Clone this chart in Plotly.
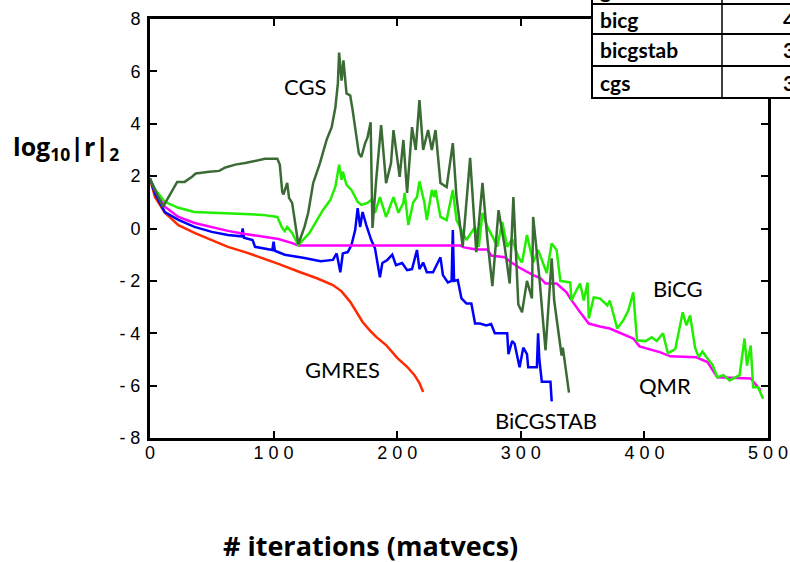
import plotly.graph_objs as go

# convergence histories, log10 of residual norm vs. matvecs
gmres_x = [0, 4, 12, 23, 36, 50, 63, 77, 91, 105, 121, 135, 148, 155, 162, 167, 172, 178, 183, 191, 200, 208, 214, 218, 221]
gmres_y = [1.9, 1.2, 0.6, 0.13, -0.17, -0.44, -0.7, -0.9, -1.13, -1.37, -1.66, -1.9, -2.16, -2.4, -2.8, -3.2, -3.57, -3.9, -4.14, -4.45, -4.94, -5.28, -5.6, -5.9, -6.24]

bicgstab_x = [0, 4, 12, 23, 36, 50, 63, 74, 75, 76, 83, 85, 99, 100, 101, 109, 125, 138, 148, 151, 154, 156, 160, 163,
              166, 168, 170, 172, 175, 179, 182, 184, 186, 188, 192, 196, 199, 204, 208, 212, 216, 218, 221, 224, 229,
              235, 237, 241, 244, 245, 246, 249, 252, 256, 260, 263, 267, 272, 276, 279, 283, 289, 290, 293, 295, 299,
              302, 305, 306, 311, 313, 314, 315, 317, 324, 325]
bicgstab_y = [1.9, 1.35, 0.63, 0.33, 0.06, -0.13, -0.25, -0.3, 0.0, -0.35, -0.44, -0.7, -0.82, -0.5, -0.85, -1.0, -1.13, -1.25,
              -1.2, -0.95, -1.67, -0.95, -0.9, -0.63, -0.06, 0.78, 0.06, 0.63, 0.13, -0.44, -0.75, -1.32, -1.86, -1.32,
              -1.2, -1.0, -1.4, -1.32, -1.59, -1.55, -0.82, -1.55, -1.3, -1.67, -1.67, -1.1, -1.78, -2.06, -2.0, -0.06,
              -2.0, -1.97, -2.67, -2.86, -2.86, -3.63, -3.63, -3.7, -3.65, -4.0, -4.0, -4.0, -4.8, -4.3, -4.4, -5.3,
              -4.55, -4.8, -5.3, -5.3, -5.3, -4.0, -5.0, -5.85, -5.85, -6.6]

qmr_x = [0, 4, 12, 23, 36, 50, 63, 77, 91, 104, 115, 120, 251, 254, 264, 273, 276, 287, 293, 299, 310, 316, 320, 329,
         337, 340, 348, 355, 364, 372, 391, 396, 413, 421, 442, 451, 459, 486, 494]
qmr_y = [1.9, 1.47, 0.83, 0.44, 0.21, 0.06, -0.09, -0.21, -0.32, -0.4, -0.56, -0.65, -0.65, -0.72, -0.8, -0.8, -1.03, -1.1,
         -1.32, -1.5, -1.78, -1.9, -2.1, -2.1, -2.44, -2.67, -3.2, -3.63, -3.74, -3.82, -4.2, -4.5, -4.73, -4.88, -4.92,
         -5.1, -5.68, -5.73, -6.18]

bicg_x = [0, 4, 12, 23, 36, 50, 77, 91, 103, 107, 109, 111, 115, 120, 129, 134, 140, 146, 150, 153, 155, 156, 159, 163,
          168, 171, 176, 179, 182, 186, 191, 197, 201, 205, 206, 209, 213, 216, 218, 222, 224, 228, 230, 231, 235, 240,
          244, 245, 248, 252, 256, 263, 266, 269, 273, 277, 281, 285, 289, 293, 298, 301, 305, 310, 314, 321, 325, 329,
          332, 340, 341, 345, 348, 351, 354, 355, 359, 364, 370, 372, 378, 383, 387, 391, 394, 401, 406, 410, 415, 419,
          425, 431, 434, 437, 441, 444, 447, 450, 455, 459, 464, 469, 477, 481, 483, 486, 488, 492, 496]
bicg_y = [1.9, 1.5, 1.02, 0.79, 0.63, 0.6, 0.56, 0.52, 0.44, 0.02, -0.1, 0.06, -0.17, -0.63, -0.17, 0.25, 0.71, 1.1, 1.6,
          2.44, 1.86, 2.17, 1.67, 1.47, 1.02, 0.9, 0.98, 1.1, 0.6, 1.2, 0.44, 1.2, 0.6, 0.98, 1.36, 0.13, 1.0, 1.2, 1.8,
          0.98, 0.32, 1.47, 1.2, 1.47, 0.44, 0.32, 1.2, 1.47, 0.32, -0.06, -0.44, 0.06, -0.7, 0.6, 0.06, -0.3, -0.7,
          0.25, -0.7, -0.4, -1.1, -1.3, -0.25, -1.3, -0.82, -1.7, -0.57, -0.82, -2.0, -2.06, -2.75, -2.36, -2.1, -2.75,
          -2.06, -3.44, -2.63, -2.67, -2.94, -2.75, -3.82, -3.5, -3.13, -2.44, -4.27, -4.3, -4.15, -4.3, -4.0, -4.77,
          -4.6, -3.2, -3.7, -3.32, -4.55, -4.92, -4.7, -4.9, -5.2, -5.68, -5.6, -5.8, -5.6, -4.2, -5.24, -4.47, -6.06,
          -6.06, -6.5]

cgs_x = [0, 10.5, 22, 28, 34, 37, 48, 56, 61, 69, 77, 85, 93, 103, 105, 107, 108, 111, 112.5, 115, 120, 125, 128, 132,
         137.5, 143, 147, 150, 152, 153, 155, 156.5, 159, 162, 164, 169, 171, 174, 176, 178.5, 180, 183, 187, 191, 195,
         197, 202, 205, 208, 212, 215, 218, 221, 225, 228, 231, 235, 240, 245, 248, 253, 259, 264, 269, 273, 277, 282,
         287, 291, 294, 298, 301, 305, 309, 310, 315, 320, 325, 327, 333, 334, 339]
cgs_y = [1.9, 0.83, 1.78, 1.78, 1.98, 2.1, 2.17, 2.2, 2.33, 2.44, 2.5, 2.58, 2.66, 2.66, 2.44, 1.4, 1.3, 1.74, 1.17, 0.98,
         -0.6, 0.06, 0.6, 1.73, 2.5, 3.4, 3.87, 4.63, 5.54, 6.72, 5.65, 6.42, 5.16, 5.08, 4.5, 2.86, 2.73, 3.25, 3.48,
         4.06, 0.02, 1.86, 3.95, 1.73, 2.5, 3.76, 1.97, 3.38, 1.36, 3.87, 3.0, 4.9, 3.0, 3.76, 3.0, 3.76, 1.74, 1.58,
         3.26, 1.2, -0.7, 2.7, -0.9, 1.74, -0.44, -2.2, 0.7, -0.7, -2.1, 1.2, -2.9, -3.2, -2.0, -2.67, 0.44, -1.86,
         -4.65, -1.14, -2.75, -4.85, -4.55, -6.27]

x_ticks = [0, 100, 200, 300, 400, 500]
x_ticktext = ["0", "1 0 0", "2 0 0", "3 0 0", "4 0 0", "5 0 0"]
y_ticks = [-8, -6, -4, -2, 0, 2, 4, 6, 8]
y_ticktext = ["- 8", "- 6", "- 4", "- 2", "0", "2", "4", "6", "8"]

# in-plot curve labels (data coordinates)
label_text = ["CGS", "BiCG", "QMR", "GMRES", "BiCGSTAB"]
label_x = [125, 427, 417, 156, 320]
label_y = [5.44, -2.31, -6.0, -5.4, -7.35]

table_names = ["bicg", "bicgstab", "cgs"]
table_iters = ["494", "325", "339"]

series = [
    (gmres_x, gmres_y, '#ff2a00', 'GMRES'),
    (bicgstab_x, bicgstab_y, '#0000ff', 'BiCGSTAB'),
    (qmr_x, qmr_y, '#ff00ff', 'QMR'),
    (bicg_x, bicg_y, '#22ee00', 'BiCG'),
    (cgs_x, cgs_y, '#3b6b34', 'CGS'),
]

data = []
for x, y, c, n in series:
    data.append(go.Scatter(x=x, y=y, mode='lines', name=n,
                           line=dict(color=c, width=2.5), hoverinfo='x+y+name'))

# plot area in pixels: left 150, right 768, top 19, bottom 438
L, R, T, B = 150, 768, 19, 438
def px(xp):
    return (xp - L) / (R - L)
def py(yp):
    return (B - yp) / (B - T)

label_font = dict(family='Lato, Noto Sans, sans-serif', size=22, color='black')
annotations = []
for t, x, y in zip(label_text, label_x, label_y):
    annotations.append(dict(x=x, y=y, xref='x', yref='y', text=t, showarrow=False, font=label_font,
                            xanchor='center', yanchor='middle'))

annotations.append(dict(x=px(66), y=py(148), xref='paper', yref='paper', showarrow=False,
                        xanchor='center', yanchor='middle',
                        text='log<sub>10</sub>|r|<sub>2</sub>',
                        font=dict(family='Open Sans, sans-serif', size=25, color='black', weight='bold')))
annotations.append(dict(x=px(370), y=py(545), xref='paper', yref='paper', showarrow=False,
                        xanchor='center', yanchor='middle',
                        text='# iterations (matvecs)',
                        font=dict(family='Open Sans, sans-serif', size=27, color='black', weight='bold')))

# partial results table, top right corner
shapes = [dict(type='rect', xref='paper', yref='paper', x0=px(592), x1=px(810), y0=py(98), y1=py(-10),
               fillcolor='white', line=dict(color='black', width=2), layer='above')]
for yl in [4, 34, 66]:
    shapes.append(dict(type='line', xref='paper', yref='paper', x0=px(592), x1=px(810), y0=py(yl), y1=py(yl),
                       line=dict(color='black', width=2), layer='above'))
shapes.append(dict(type='line', xref='paper', yref='paper', x0=px(722), x1=px(722), y0=py(98), y1=py(-10),
                   line=dict(color='black', width=1.5), layer='above'))

table_font = dict(family='Lato, sans-serif', size=21, color='black', weight='bold')
row_mid = [19, 50, 82]
for name, it, ym in zip(table_names, table_iters, row_mid):
    annotations.append(dict(x=px(598), y=py(ym), xref='paper', yref='paper', xanchor='left', yanchor='middle',
                            text=name, showarrow=False, font=table_font))
    annotations.append(dict(x=px(781), y=py(ym), xref='paper', yref='paper', xanchor='left', yanchor='middle',
                            text=it, showarrow=False, font=table_font))
annotations.append(dict(x=px(598), y=py(-11), xref='paper', yref='paper', xanchor='left', yanchor='middle',
                        text='gmres', showarrow=False, font=table_font))

axis_common = dict(showline=True, linecolor='black', linewidth=3, mirror='ticks', ticks='inside',
                   ticklen=7, tickwidth=2, tickcolor='black', showgrid=False, zeroline=False,
                   tickfont=dict(family='Liberation Sans, Arial, sans-serif', size=18, color='black'))

layout = go.Layout(
    width=790, height=562,
    autosize=False,
    margin=dict(l=L, r=790 - R, t=T, b=562 - B, autoexpand=False),
    paper_bgcolor='white', plot_bgcolor='white',
    showlegend=False,
    hovermode='closest',
    xaxis=dict(range=[0, 500], tickvals=x_ticks, ticktext=x_ticktext, ticklabelstandoff=-4, **axis_common),
    yaxis=dict(range=[-8, 8], tickvals=y_ticks, ticktext=y_ticktext, ticklabelstandoff=3, **axis_common),
    annotations=annotations,
    shapes=shapes,
)

fig = go.Figure(data=data, layout=layout)
fig.write_html("out.html", config=dict(displayModeBar=False, responsive=False),
               post_script="document.body.style.margin='0';document.body.style.overflow='hidden';")
